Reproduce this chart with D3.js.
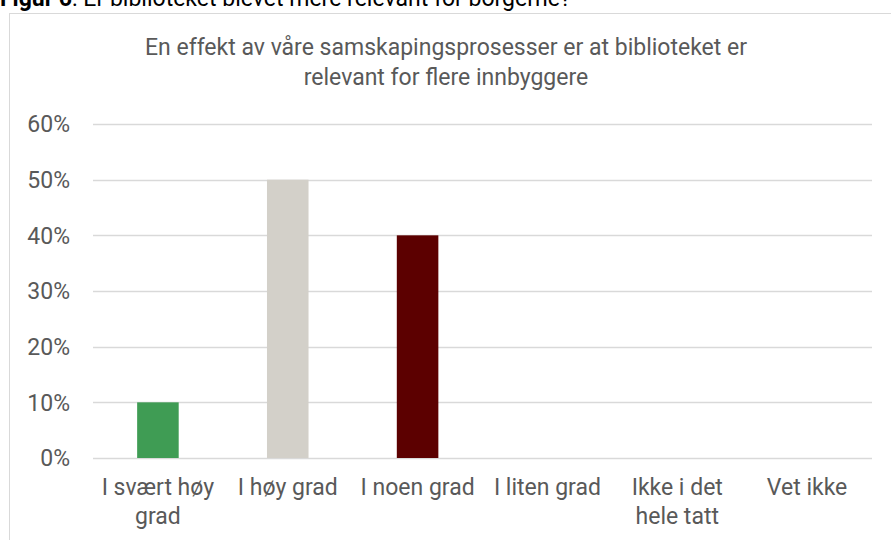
<!DOCTYPE html>
<html>
<head>
<meta charset="utf-8">
<script src="https://cdn.jsdelivr.net/npm/d3@7"></script>
<style>
  body { margin: 0; background: #fff; }
  svg text { font-family: Roboto, "Open Sans", sans-serif; }
</style>
</head>
<body>
<div id="chart"></div>
<script>
var categories = [["I svært høy", "grad"], ["I høy grad"], ["I noen grad"], ["I liten grad"], ["Ikke i det", "hele tatt"], ["Vet ikke"]];
var values = [0.10, 0.50, 0.40, 0, 0, 0];
var colors = ["#3f9c54", "#d3d0c9", "#5c0000", "#999", "#999", "#999"];
var ticks = [0, 0.1, 0.2, 0.3, 0.4, 0.5, 0.6];

var width = 891, height = 540;
var left = 93, right = 872, top_y = 124, bottom_y = 458;

var svg = d3.select("#chart").append("svg")
  .attr("width", width)
  .attr("height", height);

// figure caption cut off at the top
var cap = svg.append("text").attr("x", 0).attr("y", 6).attr("font-size", 23).attr("fill", "#000");
cap.append("tspan").attr("font-weight", "bold").text("Figur 6");
cap.append("tspan").text(": Er biblioteket blevet mere relevant for borgerne?");

// chart frame
svg.append("rect")
  .attr("x", 9.5).attr("y", 13.5)
  .attr("width", 900).attr("height", 600)
  .attr("fill", "#fff")
  .attr("stroke", "#d9d9d9");

var x = d3.scaleBand()
  .domain(d3.range(categories.length))
  .range([left, right])
  .paddingInner(0.68)
  .paddingOuter(0.34);

var y = d3.scaleLinear().domain([0, 0.6]).range([bottom_y, top_y]);

// gridlines
svg.append("g").selectAll("line")
  .data(ticks)
  .enter().append("line")
  .attr("x1", left).attr("x2", right)
  .attr("y1", function (d) { return Math.round(y(d)) + 0.5; })
  .attr("y2", function (d) { return Math.round(y(d)) + 0.5; })
  .attr("stroke", "#d9d9d9")
  .attr("stroke-width", 1.3);

// y labels
svg.append("g").selectAll("text")
  .data(ticks)
  .enter().append("text")
  .attr("x", 70)
  .attr("y", function (d) { return y(d); })
  .attr("dy", "0.36em")
  .attr("text-anchor", "end")
  .attr("font-size", 23)
  .attr("fill", "#595959")
  .text(d3.format(".0%"));

// bars
svg.append("g").selectAll("rect")
  .data(values)
  .enter().append("rect")
  .attr("x", function (d, i) { return x(i); })
  .attr("y", function (d) { return y(d); })
  .attr("width", x.bandwidth())
  .attr("height", function (d) { return bottom_y - y(d); })
  .attr("fill", function (d, i) { return colors[i]; });

// x labels
var xl = svg.append("g").selectAll("text")
  .data(categories)
  .enter().append("text")
  .attr("text-anchor", "middle")
  .attr("font-size", 23)
  .attr("fill", "#595959");
xl.each(function (lines, i) {
  var t = d3.select(this);
  lines.forEach(function (l, j) {
    t.append("tspan")
      .attr("x", x(i) + x.bandwidth() / 2)
      .attr("y", 495 + j * 29)
      .text(l);
  });
});

// title
var title = ["En effekt av våre samskapingsprosesser er at biblioteket er", "relevant for flere innbyggere"];
svg.append("g").selectAll("text")
  .data(title)
  .enter().append("text")
  .attr("x", 446)
  .attr("y", function (d, i) { return 55 + i * 30; })
  .attr("text-anchor", "middle")
  .attr("font-size", 23)
  .attr("fill", "#595959")
  .text(function (d) { return d; });
</script>
</body>
</html>
